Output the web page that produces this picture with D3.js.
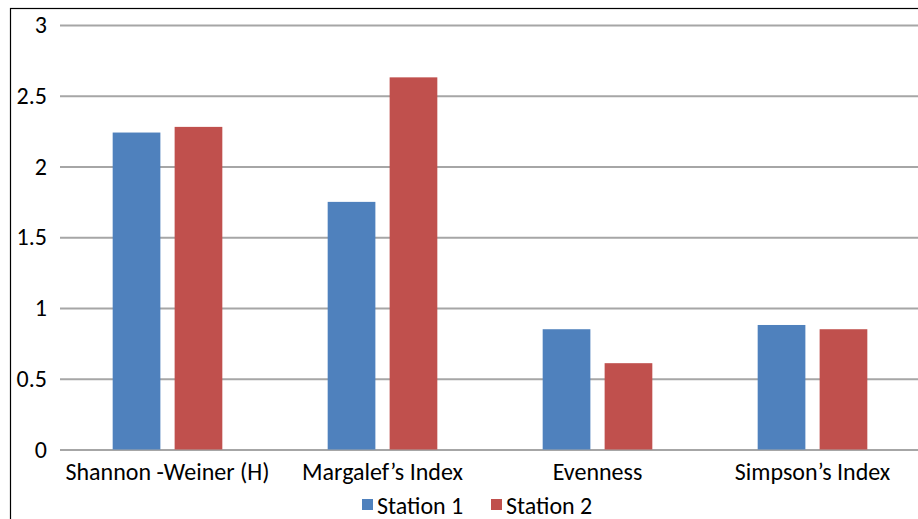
<!DOCTYPE html>
<html><head><meta charset="utf-8">
<script src="https://cdn.jsdelivr.net/npm/d3@7"></script>
<style>body{margin:0;background:#fff}svg{display:block}</style>
</head><body>
<svg id="c" width="918" height="519"></svg>
<script>
const categories = ["Shannon -Weiner (H)", "Margalef\u2019s Index", "Evenness", "Simpson\u2019s Index"];
const seriesNames = ["Station 1", "Station 2"];
const station1 = [2.24, 1.75, 0.85, 0.88];
const station2 = [2.28, 2.63, 0.61, 0.85];
const yTicks = [0, 0.5, 1, 1.5, 2, 2.5, 3];
const colors = ["#4F81BD", "#C0504D"];

(function () {
const svg = d3.select("#c");
const font = "Carlito, Calibri, 'Open Sans', sans-serif";
const fs = 24;
svg.append("rect").attr("x", 10.5).attr("y", 8.5).attr("width", 920).attr("height", 530)
  .attr("fill", "none").attr("stroke", "#000").attr("stroke-width", 1.2);

const mLeft = 60, mRight = 920, mTop = 25, mBottom = 449.5;
const y = d3.scaleLinear().domain([0, 3]).range([mBottom, mTop]);
const x0 = d3.scaleBand().domain(categories).range([mLeft, mRight]).paddingInner(0.49).paddingOuter(0.245);
const x1 = d3.scaleBand().domain(seriesNames).range([0, x0.bandwidth()]).paddingInner(0.23);

const yAxis = d3.axisLeft(y).tickValues(yTicks).tickSize(-(mRight - mLeft)).tickFormat(d3.format("~g")).tickPadding(13);
const gy = svg.append("g").attr("transform", `translate(${mLeft},0)`).call(yAxis);
gy.select(".domain").remove();
gy.selectAll(".tick line").attr("stroke", "#A6A6A6").attr("stroke-width", 2);
gy.selectAll(".tick text").attr("font-family", font).attr("font-size", fs).attr("fill", "#000");

const data = categories.map((c, i) => ({c, vals: [station1[i], station2[i]]}));
const g = svg.append("g");
data.forEach(d => {
  d.vals.forEach((v, j) => {
    g.append("rect")
      .attr("x", x0(d.c) + x1(seriesNames[j]))
      .attr("y", y(v))
      .attr("width", x1.bandwidth())
      .attr("height", y(0) - y(v))
      .attr("fill", colors[j]);
  });
});

const xAxis = d3.axisBottom(x0).tickSize(0).tickPadding(13);
const gx = svg.append("g").attr("transform", `translate(0,${mBottom})`).call(xAxis);
gx.select(".domain").remove();
gx.selectAll(".tick text").attr("font-family", font).attr("font-size", fs).attr("fill", "#000");

const legX = [362, 491];
seriesNames.forEach((s, j) => {
  svg.append("rect").attr("x", legX[j]).attr("y", 499).attr("width", 11).attr("height", 11).attr("fill", colors[j]);
  svg.append("text").attr("x", legX[j] + 15).attr("y", 514).text(s)
    .attr("font-family", font).attr("font-size", fs).attr("fill", "#000");
});
})();
</script>
</body></html>
